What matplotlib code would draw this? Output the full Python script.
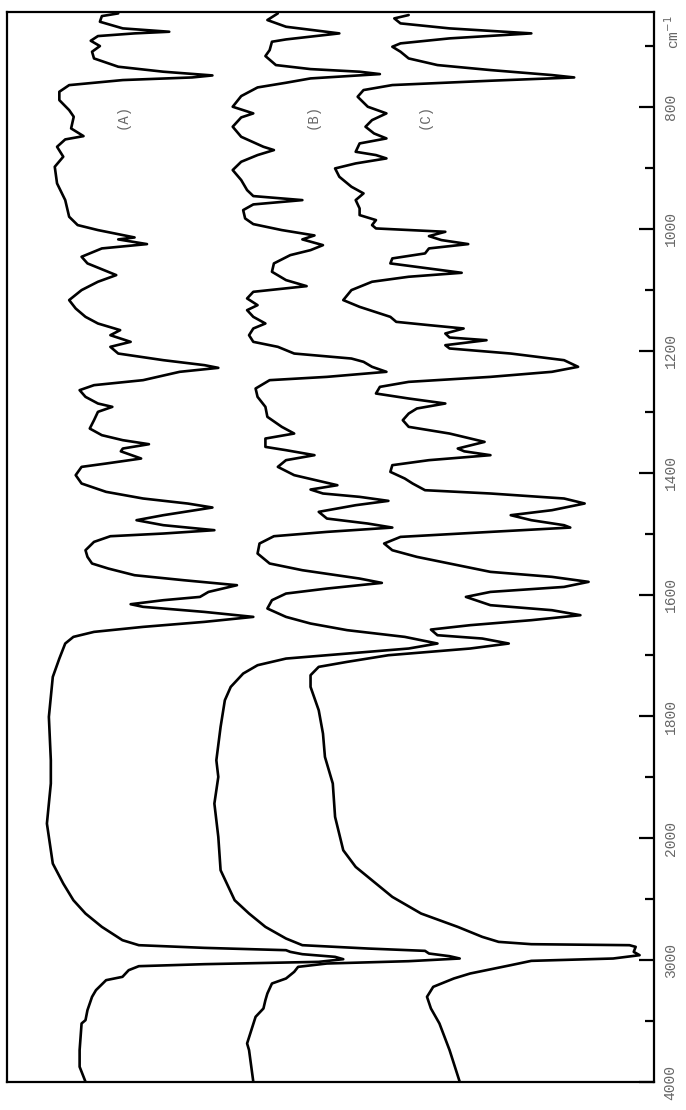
import numpy as np
import matplotlib
matplotlib.use("Agg")
import matplotlib.pyplot as plt

# ---------------- data (wavenumber cm-1, pen deflection %) ----------------
wn_a = [646.3, 650.7, 660.0, 670.9, 676.4, 679.1, 683.5, 691.2, 699.9, 709.2, 720.2, 733.8,
        742.0, 748.1, 751.4, 755.7, 764.0, 774.9, 788.6, 805.0, 815.9, 835.1, 847.7, 853.1,
        865.2, 881.5, 898.0, 925.3, 952.7, 980.0, 993.7, 1001.9, 1010.1, 1014.0, 1017.2,
        1024.9, 1032.0, 1045.7, 1056.6, 1075.8, 1086.7, 1100.4, 1116.8, 1130.6, 1144.3,
        1155.2, 1166.1, 1174.4, 1185.3, 1193.5, 1204.5, 1215.4, 1223.6, 1228.0, 1234.5,
        1248.2, 1256.4, 1264.6, 1275.6, 1286.5, 1292.0, 1300.2, 1313.9, 1327.6, 1338.5,
        1346.7, 1353.3, 1360.4, 1365.0, 1376.8, 1385.0, 1390.5, 1404.1, 1417.8, 1431.5,
        1442.4, 1450.7, 1457.2, 1469.8, 1478.0, 1486.2, 1494.4, 1499.9, 1504.3, 1513.6,
        1527.3, 1538.2, 1549.1, 1557.4, 1568.3, 1576.5, 1584.7, 1595.7, 1603.9, 1609.3,
        1615.9, 1620.2, 1628.5, 1636.7, 1644.9, 1653.1, 1661.3, 1669.5, 1680.4, 1705.1,
        1735.2, 1800.8, 1872.0, 1910.2, 1975.9, 2207.7, 2371.7, 2508.4, 2617.7, 2727.1,
        2836.4, 2877.4, 2899.3, 2918.4, 2932.1, 2951.2, 2973.1, 2992.2, 3014.1, 3033.2,
        3049.6, 3082.4, 3137.1, 3164.4, 3246.4, 3301.1, 3410.4, 3492.4, 3519.7, 3738.4,
        3875.1, 3998.1]
t_a = [18.1, 15.6, 15.3, 18.8, 25.9, 20.6, 15.0, 13.9, 15.3, 14.1, 14.4, 18.1,
       25.0, 32.5, 29.4, 18.8, 10.6, 9.1, 9.1, 10.6, 11.3, 10.9, 12.8, 10.0,
       8.75, 9.7, 8.4, 8.75, 10.0, 10.6, 11.9, 15.0, 18.8, 20.6, 18.1,
       22.5, 15.6, 12.5, 13.4, 17.8, 15.0, 12.5, 10.6, 11.6, 13.1,
       15.0, 18.4, 16.9, 20.0, 16.9, 18.1, 25.0, 31.3, 33.4, 27.5,
       21.9, 14.4, 12.2, 13.1, 15.0, 17.2, 15.0, 14.4, 13.75, 15.6,
       18.8, 22.8, 18.8, 18.5, 21.6, 16.25, 12.5, 11.6, 12.5, 16.25,
       21.9, 28.75, 32.5, 25.0, 20.9, 25.0, 32.8, 25.0, 16.9, 14.4,
       13.1, 13.4, 14.1, 16.6, 20.6, 28.1, 36.25, 31.9, 30.6, 25.0,
       20.0, 21.9, 31.25, 38.75, 31.25, 21.9, 14.4, 11.25, 10.0, 9.1,
       8.1, 7.5, 7.8, 7.8, 7.2, 8.1, 9.7, 11.25, 13.1, 15.6,
       18.75, 21.25, 31.25, 43.75, 44.4, 46.25, 51.25, 52.5, 48.75, 31.25,
       21.25, 19.7, 18.75, 16.25, 14.7, 14.1, 13.4, 13.1, 12.5, 12.2,
       12.2, 13.1]

wn_b = [646.3, 657.2, 668.2, 679.1, 689.0, 692.8, 706.5, 716.3, 731.1, 737.7, 742.0, 745.9,
        753.0, 760.1, 767.8, 782.0, 799.5, 810.4, 817.0, 832.3, 848.8, 865.2, 870.6, 878.8,
        889.8, 903.4, 919.8, 936.3, 946.1, 952.7, 959.8, 969.1, 982.8, 992.1, 1001.9, 1010.7,
        1017.2, 1026.6, 1034.8, 1043.0, 1056.6, 1070.3, 1084.0, 1093.9, 1103.2, 1114.1,
        1125.1, 1133.3, 1144.3, 1155.2, 1163.4, 1174.4, 1185.3, 1193.5, 1204.5, 1212.7,
        1218.1, 1226.3, 1234.5, 1242.8, 1248.2, 1261.9, 1275.6, 1292.0, 1308.4, 1324.8,
        1335.8, 1344.0, 1357.7, 1363.1, 1371.3, 1379.5, 1390.5, 1404.1, 1415.1, 1420.6,
        1427.7, 1434.2, 1439.7, 1446.3, 1453.4, 1464.3, 1475.3, 1483.5, 1490.1, 1497.2,
        1504.3, 1516.3, 1532.7, 1549.1, 1560.1, 1573.8, 1580.9, 1590.2, 1598.4, 1609.3,
        1623.0, 1636.7, 1647.6, 1658.5, 1669.5, 1680.4, 1688.6, 1696.9, 1705.1, 1716.0,
        1729.7, 1751.6, 1773.5, 1817.2, 1872.0, 1899.3, 1943.1, 1997.8, 2262.4, 2371.7,
        2508.4, 2617.7, 2727.1, 2822.7, 2877.4, 2904.7, 2923.9, 2945.7, 2967.6, 2986.7,
        3008.6, 3027.7, 3055.1, 3096.1, 3150.7, 3191.7, 3273.7, 3328.4, 3396.7, 3465.1,
        3683.7, 3738.4, 3998.1]
t_b = [42.5, 40.9, 43.75, 51.9, 43.75, 41.6, 41.25, 40.6, 42.2, 47.5, 55.0, 58.1,
       47.5, 43.75, 39.4, 36.9, 35.6, 38.75, 36.9, 35.6, 36.9, 40.3, 41.9, 39.4,
       36.9, 35.6, 36.9, 37.8, 38.75, 46.25, 38.75, 37.2, 37.5, 38.75, 43.1, 48.1,
       46.25, 49.4, 47.5, 44.4, 41.9, 41.6, 43.75, 46.9, 38.75, 37.8,
       39.4, 37.8, 38.75, 40.6, 38.75, 38.1, 38.75, 42.5, 45.0, 53.75,
       55.6, 56.9, 59.1, 50.0, 41.25, 39.1, 39.4, 40.6, 40.9, 43.1,
       45.0, 40.6, 40.6, 43.75, 48.1, 43.75, 42.5, 45.0, 49.4, 51.6,
       47.5, 49.4, 55.0, 59.4, 54.4, 48.75, 50.0, 56.25, 60.0, 50.0,
       41.9, 39.7, 39.4, 41.25, 46.25, 55.0, 58.4, 50.0, 43.75, 41.6,
       40.9, 43.75, 47.5, 53.1, 61.9, 66.9, 62.5, 53.1, 43.75, 39.4,
       37.2, 35.3, 34.4, 33.75, 33.1, 33.4, 32.8, 33.4, 33.75, 34.7,
       35.9, 38.1, 40.6, 43.75, 46.25, 56.25, 65.0, 65.6, 68.75, 70.3,
       62.5, 50.0, 45.6, 45.0, 43.75, 41.6, 40.9, 40.6, 40.3, 39.1,
       37.8, 38.1, 38.75]

wn_c = [649.0, 654.5, 662.7, 670.9, 679.1, 687.3, 695.5, 701.0, 709.2, 720.2, 731.1, 739.3,
        747.5, 751.4, 756.8, 763.9, 772.1, 783.1, 799.5, 810.4, 821.4, 832.3, 843.3, 851.5,
        859.7, 873.4, 878.8, 884.3, 892.5, 900.7, 914.4, 930.8, 941.7, 952.7, 966.4, 977.3,
        985.5, 993.7, 999.2, 1004.7, 1011.8, 1018.3, 1024.9, 1032.0, 1040.2, 1048.4, 1056.6,
        1064.9, 1072.0, 1078.5, 1086.7, 1100.4, 1116.8, 1127.9, 1138.8, 1144.3, 1152.5,
        1157.9, 1163.4, 1171.6, 1178.2, 1182.6, 1190.8, 1196.2, 1204.5, 1215.4, 1226.3,
        1234.5, 1242.8, 1251.0, 1259.2, 1270.1, 1278.3, 1286.5, 1294.7, 1303.0, 1313.9,
        1324.8, 1335.8, 1349.5, 1360.4, 1365.0, 1371.3, 1379.5, 1387.7, 1398.7, 1409.6,
        1417.8, 1428.8, 1434.2, 1442.4, 1450.6, 1461.6, 1469.8, 1478.0, 1486.2, 1490.1,
        1497.2, 1505.4, 1516.3, 1527.3, 1538.2, 1551.9, 1562.8, 1571.0, 1579.2, 1587.5,
        1595.7, 1603.9, 1617.5, 1625.7, 1633.9, 1642.1, 1650.3, 1657.5, 1666.8, 1672.2,
        1680.4, 1688.6, 1699.6, 1710.5, 1718.7, 1732.4, 1751.6, 1789.9, 1828.2, 1866.5,
        1910.2, 1964.9, 2098.4, 2235.1, 2371.7, 2481.1, 2617.7, 2727.1, 2809.1, 2850.1,
        2869.2, 2877.4, 2891.1, 2932.1, 2959.4, 2986.7, 3005.9, 3041.4, 3109.7, 3150.7,
        3219.1, 3301.1, 3396.7, 3519.7, 3738.4, 3998.1]
t_c = [62.5, 60.3, 61.25, 68.75, 81.25, 68.75, 61.25, 60.0, 61.25, 62.5, 66.9, 75.0,
       84.4, 87.8, 75.0, 60.0, 55.6, 54.7, 56.25, 59.1, 56.9, 55.9, 57.2, 59.1,
       55.0, 54.4, 57.5, 59.1, 54.4, 51.25, 51.9, 53.75, 55.6, 54.4, 55.0, 55.0,
       57.5, 56.9, 57.5, 68.1, 65.6, 67.5, 71.6, 65.6, 65.0, 60.0, 59.7,
       65.6, 70.6, 62.5, 56.9, 53.75, 52.5, 55.0, 58.1, 59.7, 60.6,
       65.6, 70.9, 68.1, 68.75, 74.4, 68.1, 68.75, 78.1, 86.25, 88.4,
       84.4, 75.0, 62.5, 58.1, 57.5, 62.5, 68.1, 63.75, 62.5, 61.6,
       62.5, 68.75, 74.1, 70.0, 71.0, 75.0, 65.6, 60.0, 59.7, 61.9,
       63.1, 65.0, 75.0, 86.25, 89.4, 84.4, 78.1, 81.25, 86.25, 87.2,
       75.0, 61.25, 58.75, 60.0, 63.75, 70.0, 75.0, 84.4, 90.0, 86.25,
       75.0, 71.25, 75.0, 84.4, 88.75, 81.25, 71.9, 65.9, 66.9, 73.75,
       77.8, 71.9, 59.4, 53.1, 48.75, 47.5, 47.5, 48.75, 49.4, 49.7,
       50.9, 51.25, 52.5, 54.4, 57.5, 60.0, 64.4, 70.0, 73.75, 76.25,
       81.25, 96.25, 97.2, 96.9, 97.8, 93.75, 81.25, 78.1, 71.9, 69.4,
       66.25, 65.3, 65.9, 67.2, 68.75, 70.3]

major_ticks = [800, 1000, 1200, 1400, 1600, 1800, 2000, 3000, 4000]
minor_ticks = [700, 900, 1100, 1300, 1500, 1700, 1900, 2500, 3500]
curve_names = ["(A)", "(B)", "(C)"]
name_pos_t = [18.75, 47.8, 65.0]
name_pos_wn = 815

# ---------------- figure ----------------
W, H = 686, 1110
fig = plt.figure(figsize=(W / 100, H / 100), dpi=100)
ax = fig.add_axes([7 / W, 1 - 1082 / H, 647 / W, 1070 / H])


def fwd(w):
    w = np.asarray(w, dtype=float)
    return np.where(w <= 2000, w, 2000 + (w - 2000) / 5.0)


def inv(u):
    u = np.asarray(u, dtype=float)
    return np.where(u <= 2000, u, 2000 + (u - 2000) * 5.0)


ax.set_yscale('function', functions=(fwd, inv))

for w, t in [(wn_a, t_a), (wn_b, t_b), (wn_c, t_c)]:
    ax.plot(t, w, color='black', lw=1.9, solid_joinstyle='round', solid_capstyle='round')

ax.set_ylim(4000, 644)
ax.set_xlim(1.1, 100)
ax.set_xticks([])

label_color = '#666666'
ax.yaxis.tick_right()
ax.set_yticks(major_ticks)
ax.set_yticks(minor_ticks, minor=True)
ax.set_yticklabels([str(t) for t in major_ticks], rotation=90, va='center',
                   family='Liberation Mono', fontsize=10.5, color=label_color)
ax.yaxis.set_minor_formatter(matplotlib.ticker.NullFormatter())
ax.tick_params(axis='y', which='major', direction='in', length=11, width=1.6, pad=7)
ax.tick_params(axis='y', which='minor', direction='in', length=6.5, width=1.6)
for s in ax.spines.values():
    s.set_linewidth(1.6)

for name, tp in zip(curve_names, name_pos_t):
    ax.text(tp, name_pos_wn, name, rotation=90, ha='center', va='center',
            family='Liberation Mono', fontsize=10, color=label_color)

fig.text(0.981, 0.9707, "cm$^{-1}$", rotation=90, ha='center', va='center',
         family='Liberation Mono', fontsize=10.5, color=label_color)

fig.savefig('out.png', dpi=100)
